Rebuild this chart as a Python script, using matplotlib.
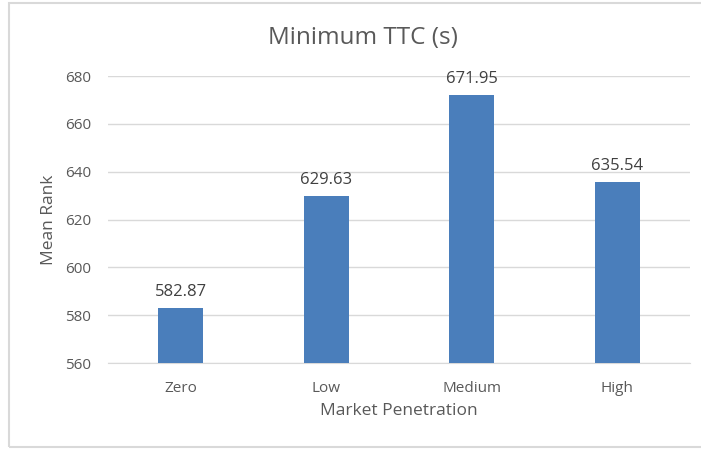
import matplotlib.pyplot as plt
from matplotlib.patches import Rectangle

categories = ['Zero', 'Low', 'Medium', 'High']
mean_rank = [582.87, 629.63, 671.95, 635.54]
yticks = [560, 580, 600, 620, 640, 660, 680]

plt.rcParams['font.family'] = ['Open Sans', 'DejaVu Sans']
txt = '#595959'

fig = plt.figure(figsize=(7.01, 4.5), dpi=100)
fig.patches.append(Rectangle((9 / 701, 3 / 450), 700 / 701, 444 / 450, transform=fig.transFigure,
                             fill=False, edgecolor='#d9d9d9', linewidth=1.5))
ax = fig.add_axes([108 / 701, 1 - 363 / 450, 582 / 701, 287 / 450])

x = range(len(categories))
bars = ax.bar(x, mean_rank, width=0.31, color='#4a7ebb', zorder=3)
for b, v in zip(bars, mean_rank):
    ax.text(b.get_x() + b.get_width() / 2, v + 3.5, f'{v:.2f}', ha='center', va='bottom',
            fontsize=12, color='#404040')

ax.set_xlim(-0.5, len(categories) - 0.5)
ax.set_ylim(560, 680)
ax.set_yticks(yticks)
ax.set_xticks(list(x))
ax.set_xticklabels(categories)
ax.grid(axis='y', color='#d9d9d9', linewidth=1, zorder=0)
for s in ['top', 'right', 'left']:
    ax.spines[s].set_visible(False)
ax.spines['bottom'].set_color('#d9d9d9')
ax.tick_params(axis='both', length=0, labelsize=11, colors=txt)
ax.tick_params(axis='x', pad=13)
ax.tick_params(axis='y', pad=12)
ax.set_xlabel('Market Penetration', fontsize=12.5, color=txt, labelpad=5)
ax.set_ylabel('Mean Rank', fontsize=12.5, color=txt, labelpad=6)
fig.text(363 / 701, 1 - 38 / 450, 'Minimum TTC (s)', ha='center', va='center', fontsize=17.5, color=txt)

fig.savefig('out.png', dpi=100)
